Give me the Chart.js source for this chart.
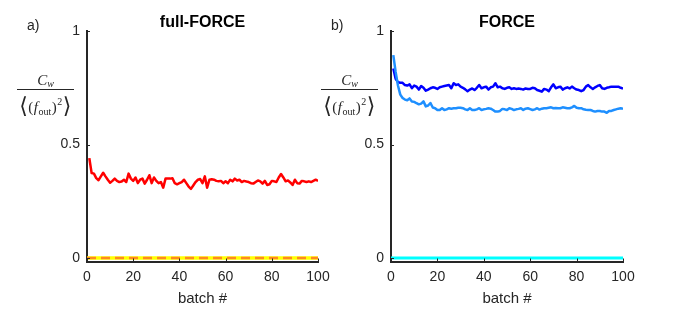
<!DOCTYPE html>
<html>
<head>
<meta charset="utf-8">
<script src="https://cdn.jsdelivr.net/npm/chart.js@4.4.0/dist/chart.umd.min.js"></script>
<style>
    html, body { margin: 0; padding: 0; background: #fff; }
    #wrap { position: relative; width: 693px; height: 325px; }
    #wrap canvas { position: absolute; top: 0; }
</style>
</head>
<body>
<div id="wrap">
    <canvas id="chartA" width="340" height="325" style="left:0;width:340px;height:325px"></canvas>
    <canvas id="chartB" width="393" height="325" style="left:300px;width:393px;height:325px"></canvas>
</div>
<script>
// batch numbers 1..100
const batches = Array.from({ length: 100 }, (_, i) => i + 1);
const zeroX = [0, 100];
const zeroY = [0, 0];
const xTicks = [0, 20, 40, 60, 80, 100];
const yTicks = [0, 0.5, 1];

// a) full-FORCE
const fullForceCost = [
    0.44, 0.375, 0.372, 0.352, 0.343, 0.36, 0.376, 0.36, 0.345, 0.332,
    0.34, 0.35, 0.34, 0.335, 0.337, 0.345, 0.335, 0.372, 0.35, 0.34,
    0.355, 0.33, 0.345, 0.35, 0.328, 0.345, 0.365, 0.33, 0.355, 0.34,
    0.33, 0.335, 0.31, 0.35, 0.35, 0.35, 0.352, 0.33, 0.325, 0.33,
    0.335, 0.345, 0.33, 0.315, 0.305, 0.32, 0.335, 0.345, 0.348, 0.33,
    0.36, 0.31, 0.345, 0.347, 0.345, 0.34, 0.338, 0.34, 0.33, 0.338,
    0.33, 0.345, 0.338, 0.35, 0.342, 0.345, 0.335, 0.34, 0.337, 0.335,
    0.33, 0.328, 0.335, 0.342, 0.338, 0.328, 0.34, 0.322, 0.325, 0.34,
    0.338, 0.335, 0.355, 0.37, 0.355, 0.338, 0.342, 0.333, 0.322, 0.345,
    0.33, 0.328, 0.34, 0.338, 0.335, 0.338, 0.335, 0.34, 0.345, 0.34
];

// b) FORCE
const forceCostDark = [
    0.835, 0.79, 0.775, 0.772, 0.772, 0.762, 0.76, 0.765, 0.748, 0.76,
    0.755, 0.742, 0.758, 0.75, 0.737, 0.742, 0.748, 0.752, 0.75, 0.745,
    0.752, 0.755, 0.758, 0.76, 0.762, 0.748, 0.77, 0.762, 0.765, 0.755,
    0.75, 0.743, 0.735, 0.742, 0.747, 0.74, 0.75, 0.762, 0.748, 0.752,
    0.755, 0.742, 0.752, 0.755, 0.77, 0.752, 0.755, 0.748, 0.745, 0.75,
    0.752, 0.745, 0.748, 0.745, 0.747, 0.745, 0.742, 0.747, 0.745, 0.745,
    0.75, 0.748, 0.74, 0.737, 0.733, 0.745, 0.742, 0.735, 0.752, 0.765,
    0.748, 0.752, 0.755, 0.742, 0.748, 0.752, 0.747, 0.755, 0.748, 0.742,
    0.74, 0.735, 0.74, 0.755, 0.762, 0.752, 0.745, 0.752, 0.758, 0.762,
    0.748, 0.745, 0.75, 0.752, 0.755, 0.755, 0.755, 0.755, 0.75, 0.747
];
const forceCostLight = [
    0.894, 0.82, 0.76, 0.72, 0.705, 0.698, 0.695, 0.703, 0.69, 0.688,
    0.682, 0.677, 0.68, 0.69, 0.668, 0.672, 0.683, 0.663, 0.66, 0.652,
    0.652, 0.66, 0.652, 0.655, 0.66, 0.658, 0.66, 0.66, 0.662, 0.662,
    0.66, 0.655, 0.652, 0.66, 0.652, 0.652, 0.655, 0.66, 0.652, 0.655,
    0.657, 0.66, 0.658, 0.652, 0.645, 0.645, 0.648, 0.657, 0.655, 0.652,
    0.66, 0.657, 0.652, 0.655, 0.657, 0.66, 0.652, 0.658, 0.66, 0.656,
    0.652, 0.655, 0.66, 0.654, 0.658, 0.66, 0.66, 0.662, 0.664, 0.66,
    0.661, 0.66, 0.66, 0.664, 0.662, 0.66, 0.66, 0.664, 0.67, 0.662,
    0.66, 0.66, 0.655, 0.653, 0.652, 0.652, 0.648, 0.645, 0.648, 0.648,
    0.645, 0.645, 0.64, 0.648, 0.648, 0.652, 0.655, 0.658, 0.66, 0.657
];

const AX = '#262626';
const SANS = '"Liberation Sans", Arial, sans-serif';
const SERIF = '"Liberation Serif", "DejaVu Serif", serif';

function pts(xs, ys) { return xs.map((x, i) => ({ x: x, y: ys[i] })); }

//fraction C_w / <(f_out)^2> as y label
function drawFrac(ctx, cx) {
    ctx.fillStyle = AX;
    ctx.textBaseline = 'alphabetic';
    ctx.textAlign = 'left';
    ctx.font = 'italic 15px ' + SERIF;
    const wC = ctx.measureText('C').width;
    ctx.font = 'italic 10px ' + SERIF;
    const ww = ctx.measureText('w').width;
    let x = cx - (wC + ww) / 2;
    ctx.font = 'italic 15px ' + SERIF;
    ctx.fillText('C', x, 85);
    ctx.font = 'italic 10px ' + SERIF;
    ctx.fillText('w', x + wC, 87);
    ctx.fillRect(cx - 28.5, 89, 57, 1);

    const parts = [
        ['\u27E8', '22px "DejaVu Sans"', 1],
        ['(', '15px ' + SERIF, 0],
        ['f', 'italic 15px ' + SERIF, 0],
        ['out', '10px ' + SERIF, 3],
        [')', '15px ' + SERIF, 0],
        ['2', '10px ' + SERIF, -7],
        ['\u27E9', '22px "DejaVu Sans"', 1]
    ];
    let total = 0;
    parts.forEach(p => { ctx.font = p[1]; total += ctx.measureText(p[0]).width + 0.5; });
    x = cx - total / 2;
    parts.forEach(p => {
        ctx.font = p[1];
        ctx.fillText(p[0], x, 112 + p[2]);
        x += ctx.measureText(p[0]).width + 0.5;
    });
}

const decoPlugin = {
    id: 'deco',
    afterDraw(chart, args, opts) {
        const ctx = chart.ctx;
        const a = chart.chartArea;
        const xs = chart.scales.x, ys = chart.scales.y;
        ctx.save();
        //ticks inside, matlab style
        ctx.strokeStyle = AX;
        ctx.lineWidth = 1;
        ctx.beginPath();
        xTicks.forEach(v => {
            const px = Math.round(xs.getPixelForValue(v)) + 0.5;
            ctx.moveTo(px, a.bottom); ctx.lineTo(px, a.bottom - 3);
        });
        yTicks.forEach(v => {
            const py = Math.round(ys.getPixelForValue(v)) + 0.5;
            ctx.moveTo(a.left, py); ctx.lineTo(a.left + 3, py);
        });
        ctx.stroke();

        ctx.fillStyle = '#000';
        ctx.textAlign = 'center';
        ctx.textBaseline = 'alphabetic';
        ctx.font = 'bold 16px ' + SANS;
        ctx.fillText(opts.title, (a.left + a.right) / 2, 27);

        ctx.fillStyle = AX;
        ctx.font = '15px ' + SANS;
        ctx.fillText('batch #', (a.left + a.right) / 2, 303);

        ctx.textAlign = 'left';
        ctx.font = '14px ' + SANS;
        ctx.fillText(opts.panel, a.left - 60, 30);

        drawFrac(ctx, a.left - 41.5);
        ctx.restore();
    }
};

function makeChart(id, datasets, title, panel, padRight) {
    return new Chart(document.getElementById(id), {
        type: 'line',
        data: { datasets: datasets },
        options: {
            responsive: false,
            animation: false,
            layout: { padding: { top: 31, right: padRight, left: 0, bottom: 0 } },
            elements: { point: { radius: 0 }, line: { tension: 0, borderJoinStyle: 'round' } },
            plugins: { legend: { display: false }, tooltip: { enabled: false }, deco: { title: title, panel: panel } },
            scales: {
                x: {
                    type: 'linear', min: 0, max: 100,
                    afterBuildTicks: s => { s.ticks = xTicks.map(v => ({ value: v })); },
                    afterFit: s => { s.height = 63.5; },
                    grid: { display: false, drawTicks: false },
                    border: { display: true, color: AX, width: 2 },
                    ticks: { color: AX, font: { family: SANS, size: 14 }, padding: 7, maxRotation: 0, callback: v => String(v) }
                },
                y: {
                    type: 'linear', min: -0.015, max: 1,
                    afterBuildTicks: s => { s.ticks = yTicks.map(v => ({ value: v })); },
                    afterFit: s => { s.width = (id === 'chartA') ? 87 : 91; },
                    grid: { display: false, drawTicks: false },
                    border: { display: true, color: AX, width: 2 },
                    ticks: { color: AX, font: { family: SANS, size: 14 }, padding: 7, callback: v => String(v) }
                }
            }
        },
        plugins: [decoPlugin]
    });
}

// order: lower value is drawn on top
makeChart('chartA', [
    { data: pts(batches, fullForceCost), borderColor: '#ff0000', borderWidth: 2.5, order: 0 },
    { data: pts(zeroX, zeroY), borderColor: '#ffff00', borderWidth: 3.5, order: 2 },
    { data: pts(zeroX, zeroY), borderColor: '#ff8a1e', borderWidth: 2.5, borderDash: [9, 5], borderCapStyle: 'butt', order: 1 }
], 'full-FORCE', 'a)', 22);

makeChart('chartB', [
    { data: pts(batches, forceCostDark), borderColor: '#0000ff', borderWidth: 2.5, order: 1 },
    { data: pts(batches, forceCostLight), borderColor: '#1e8fff', borderWidth: 2.5, order: 0 },
    { data: pts(zeroX, zeroY), borderColor: '#00ffff', borderWidth: 3, order: 2 }
], 'FORCE', 'b)', 70);
</script>
</body>
</html>
